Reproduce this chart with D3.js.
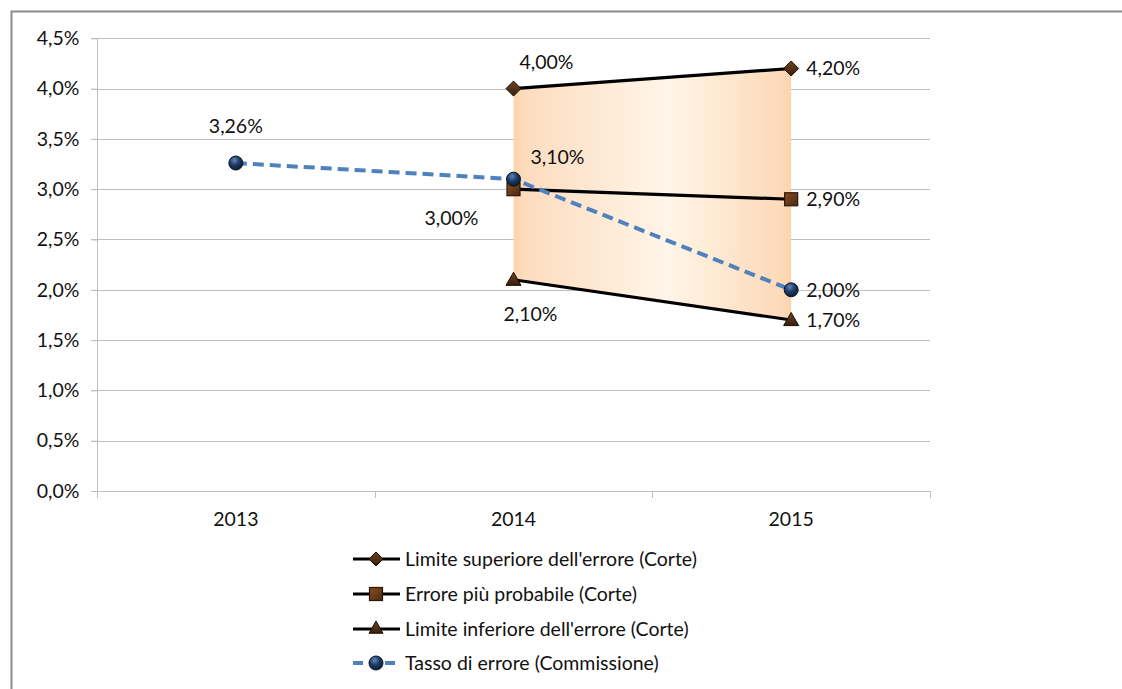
<!DOCTYPE html>
<html><head><meta charset="utf-8">
<script src="https://cdn.jsdelivr.net/npm/d3@7"></script>
<style>html,body{margin:0;background:#fff;overflow:hidden;}svg{display:block;font-family:Lato,sans-serif;}</style>
</head><body>
<svg id="c" width="1122" height="689"></svg>
<script>
const categories = ["2013","2014","2015"];
const upperLimit = [null, 4.00, 4.20];
const mostLikely = [null, 3.00, 2.90];
const lowerLimit = [null, 2.10, 1.70];
const commissionRate = [3.26, 3.10, 2.00];
const yTicks = [0,0.5,1,1.5,2,2.5,3,3.5,4,4.5];
const seriesNames = ["Limite superiore dell'errore (Corte)","Errore più probabile (Corte)","Limite inferiore dell'errore (Corte)","Tasso di errore (Commissione)"];

const FS = "19.5px", FF = "Lato", TXT = "#111";
const svg = d3.select("#c");
const fmtTick = v => v.toFixed(1).replace(".", ",") + "%";
const fmtLab = v => v.toFixed(2).replace(".", ",") + "%";

const L = 97, R = 930, T = 38.3, B = 491;
const x = d3.scaleBand().domain(categories).range([L, R]);
const cx = c => x(c) + x.bandwidth()/2;
const y = d3.scaleLinear().domain([0,4.5]).range([B, T]);

// outer border
svg.append("path").attr("d","M11.5,700 V11.5 H1130").attr("fill","none").attr("stroke","#8c8c8c").attr("stroke-width",2);

const defs = svg.append("defs");
const g1 = defs.append("linearGradient").attr("id","area").attr("x1","0").attr("x2","1").attr("y1","0").attr("y2","0");
[[0,"#fcd3ac"],[0.04,"#fddcbf"],[0.55,"#fff5e8"],[0.97,"#fdd9b8"],[1,"#fcd2ab"]].forEach(s=>g1.append("stop").attr("offset",s[0]).attr("stop-color",s[1]));
const gB = defs.append("radialGradient").attr("id","ball").attr("cx","0.4").attr("cy","0.3").attr("r","0.7");
[[0,"#5f86b8"],[0.5,"#1e3d66"],[1,"#0d1d33"]].forEach(s=>gB.append("stop").attr("offset",s[0]).attr("stop-color",s[1]));
const gM = defs.append("linearGradient").attr("id","brown").attr("x1","0").attr("x2","0").attr("y1","0").attr("y2","1");
[[0,"#6e4323"],[1,"#3a1f0c"]].forEach(s=>gM.append("stop").attr("offset",s[0]).attr("stop-color",s[1]));
const gS = defs.append("linearGradient").attr("id","sq").attr("x1","0").attr("x2","1").attr("y1","0").attr("y2","1");
[[0,"#8a4d22"],[1,"#4a2a10"]].forEach(s=>gS.append("stop").attr("offset",s[0]).attr("stop-color",s[1]));

// gridlines
svg.append("g").selectAll("line").data(yTicks.filter(v=>v>0)).join("line")
  .attr("x1",L-6).attr("x2",R).attr("y1",d=>Math.round(y(d))+0.5).attr("y2",d=>Math.round(y(d))+0.5)
  .attr("stroke","#bfbfbf").attr("stroke-width",1);

// y axis
const yAxis = svg.append("g").attr("transform",`translate(${L+0.5},0)`)
  .call(d3.axisLeft(y).tickValues(yTicks).tickFormat(fmtTick).tickSize(6).tickPadding(12));
yAxis.attr("font-size",null).attr("font-family",null);
yAxis.select(".domain").attr("stroke","#bfbfbf").attr("d",`M0,${T}V${B}`);
yAxis.selectAll(".tick line").attr("stroke","#bfbfbf");
yAxis.selectAll(".tick text").style("font-size",FS).style("font-family",FF).attr("fill",TXT);

// x axis
const xAxis = svg.append("g").attr("transform",`translate(0,${Math.round(B)+0.5})`)
  .call(d3.axisBottom(x).tickSize(0).tickPadding(21));
xAxis.attr("font-size",null).attr("font-family",null);
xAxis.select(".domain").attr("stroke","#bfbfbf").attr("d",`M${L-6},0H${R}`);
xAxis.selectAll(".tick text").style("font-size",FS).style("font-family",FF).attr("fill",TXT);
const bounds = [L, L+x.bandwidth(), L+2*x.bandwidth(), R];
svg.append("g").selectAll("line").data(bounds).join("line")
  .attr("x1",d=>Math.round(d)+0.5).attr("x2",d=>Math.round(d)+0.5).attr("y1",B).attr("y2",B+7)
  .attr("stroke","#bfbfbf");

// area between limits
const idx = [1,2];
const area = d3.area().x(i=>cx(categories[i])).y0(i=>y(lowerLimit[i])).y1(i=>y(upperLimit[i]));
svg.append("path").datum(idx).attr("d",area).attr("fill","url(#area)");

// lines
const lineOf = arr => d3.line().defined(i=>arr[i]!=null).x(i=>cx(categories[i])).y(i=>y(arr[i]));
const all = [0,1,2];
[upperLimit, mostLikely, lowerLimit].forEach(arr=>{
  svg.append("path").datum(all).attr("d",lineOf(arr)).attr("fill","none").attr("stroke","#000").attr("stroke-width",3.2);
});
svg.append("path").datum(all).attr("d",lineOf(commissionRate)).attr("fill","none")
  .attr("stroke","#4f81bd").attr("stroke-width",4).attr("stroke-dasharray","11,6");

// markers
function diamond(g, px, py, s){ g.append("path").attr("d",`M${px},${py-s}L${px+s},${py}L${px},${py+s}L${px-s},${py}Z`).attr("fill","url(#brown)").attr("stroke","#1a0d03").attr("stroke-width",1); }
function square(g, px, py, s){ g.append("rect").attr("x",px-s).attr("y",py-s).attr("width",2*s).attr("height",2*s).attr("fill","url(#sq)").attr("stroke","#2a1505").attr("stroke-width",1.2); }
function tri(g, px, py, s){ g.append("path").attr("d",`M${px},${py-s}L${px+s},${py+s*0.75}L${px-s},${py+s*0.75}Z`).attr("fill","url(#brown)").attr("stroke","#1a0d03").attr("stroke-width",1); }
function ball(g, px, py, r){ g.append("circle").attr("cx",px).attr("cy",py).attr("r",r).attr("fill","url(#ball)").attr("stroke","#0a1424").attr("stroke-width",1); }

const mk = svg.append("g");
idx.forEach(i=>{
  const px = cx(categories[i]);
  square(mk, px, y(mostLikely[i]), 6.5);
  tri(mk, px, y(lowerLimit[i]), 7.5);
  diamond(mk, px, y(upperLimit[i]), 7.5);
});
all.forEach(i=> ball(mk, cx(categories[i]), y(commissionRate[i]), 7));

// data labels
const labels = svg.append("g").style("font-size",FS).style("font-family",FF).attr("fill",TXT);
const lab = (v, i, dx, dy, anchor) => labels.append("text").attr("x",cx(categories[i])+dx).attr("y",y(v)+dy).attr("text-anchor",anchor||"start").text(fmtLab(v));
lab(commissionRate[0],0,0,-30,"middle");
lab(commissionRate[1],1,44,-15,"middle");
lab(commissionRate[2],2,15,7);
lab(upperLimit[1],1,33,-20,"middle");
lab(upperLimit[2],2,15,7);
lab(mostLikely[1],1,-62,36,"middle");
lab(mostLikely[2],2,15,7);
lab(lowerLimit[1],1,17,41,"middle");
lab(lowerLimit[2],2,15,7);

// legend
const lg = svg.append("g");
const rowsY = [559, 594, 629, 663];
const lx1 = 353, lx2 = 400, mx = 376;
rowsY.forEach((ry,k)=>{
  if(k<3){
    lg.append("line").attr("x1",lx1).attr("x2",lx2).attr("y1",ry).attr("y2",ry).attr("stroke","#000").attr("stroke-width",3.2);
  } else {
    lg.append("line").attr("x1",lx1).attr("x2",lx2).attr("y1",ry).attr("y2",ry).attr("stroke","#4f81bd").attr("stroke-width",4).attr("stroke-dasharray","10,6");
  }
  if(k===0) diamond(lg,mx,ry,7);
  if(k===1) square(lg,mx,ry,6.5);
  if(k===2) tri(lg,mx,ry-1,7);
  if(k===3) ball(lg,mx,ry,7);
  lg.append("text").attr("x",405).attr("y",ry+6.5).style("font-size",FS).style("font-family",FF).attr("fill",TXT).text(seriesNames[k]);
});
</script>
</body></html>
